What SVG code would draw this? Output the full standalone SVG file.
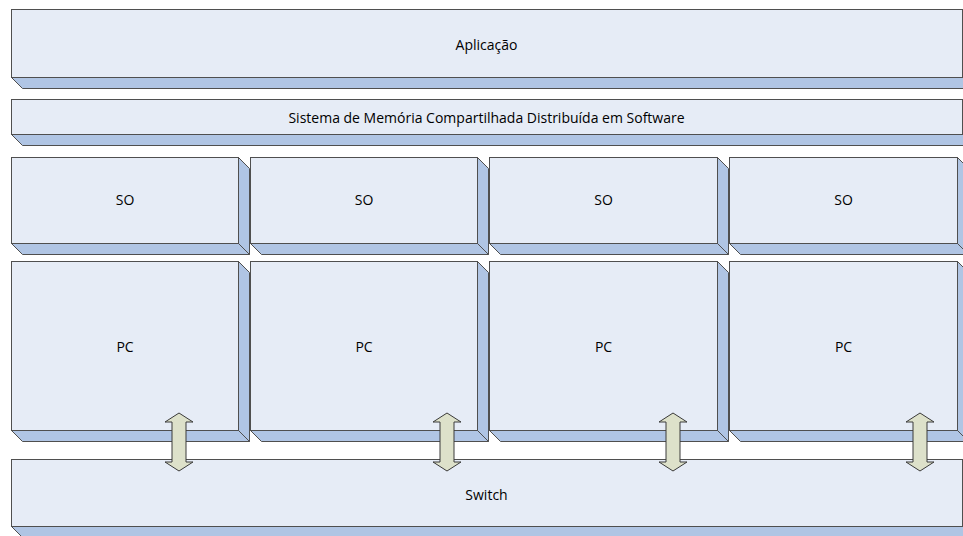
<svg xmlns="http://www.w3.org/2000/svg" width="963" height="536" viewBox="0 0 963 536">
<style>
.f{fill:#E6ECF6;stroke:#4F4F4F;stroke-width:1}
.s{fill:#B0C5E4;stroke:#4F4F4F;stroke-width:1;stroke-linejoin:miter}
.t{font-family:"Open Sans",Lato,"Liberation Sans",sans-serif;font-size:14px;fill:#000;text-anchor:middle;dominant-baseline:central}
.a{fill:#DDE1CA;stroke:#3A3A3A;stroke-width:1;stroke-linejoin:miter}
</style>
<rect width="963" height="536" fill="#fff"/>
<g id="aplicacao">
<polygon class="s" points="11.5,77.5 962.5,77.5 973.5,88.5 22.5,88.5"/>
<polygon class="s" points="962.5,9.5 973.5,20.5 973.5,88.5 962.5,77.5"/>
<rect class="f" x="11.5" y="9.5" width="951" height="68"/>
<text class="t" x="486.5" y="44">Aplicação</text>
</g>
<g id="sdsm">
<polygon class="s" points="11.5,134.5 962.5,134.5 973.5,145.5 22.5,145.5"/>
<polygon class="s" points="962.5,99.5 973.5,110.5 973.5,145.5 962.5,134.5"/>
<rect class="f" x="11.5" y="99.5" width="951" height="35"/>
<text class="t" x="486.5" y="117">Sistema de Memória Compartilhada Distribuída em Software</text>
</g>
<g id="so1">
<polygon class="s" points="11.5,243.5 238.5,243.5 249.5,254.5 22.5,254.5"/>
<polygon class="s" points="238.5,157.5 249.5,168.5 249.5,254.5 238.5,243.5"/>
<rect class="f" x="11.5" y="157.5" width="227" height="86"/>
<text class="t" x="125" y="199">SO</text>
</g>
<g id="so2">
<polygon class="s" points="250.5,243.5 477.5,243.5 488.5,254.5 261.5,254.5"/>
<polygon class="s" points="477.5,157.5 488.5,168.5 488.5,254.5 477.5,243.5"/>
<rect class="f" x="250.5" y="157.5" width="227" height="86"/>
<text class="t" x="364" y="199">SO</text>
</g>
<g id="so3">
<polygon class="s" points="489.5,243.5 717.5,243.5 728.5,254.5 500.5,254.5"/>
<polygon class="s" points="717.5,157.5 728.5,168.5 728.5,254.5 717.5,243.5"/>
<rect class="f" x="489.5" y="157.5" width="228" height="86"/>
<text class="t" x="603.5" y="199">SO</text>
</g>
<g id="so4">
<polygon class="s" points="729.5,243.5 957.5,243.5 968.5,254.5 740.5,254.5"/>
<polygon class="s" points="957.5,157.5 968.5,168.5 968.5,254.5 957.5,243.5"/>
<rect class="f" x="729.5" y="157.5" width="228" height="86"/>
<text class="t" x="843.5" y="199">SO</text>
</g>
<g id="pc1">
<polygon class="s" points="11.5,430.5 238.5,430.5 249.5,441.5 22.5,441.5"/>
<polygon class="s" points="238.5,261.5 249.5,272.5 249.5,441.5 238.5,430.5"/>
<rect class="f" x="11.5" y="261.5" width="227" height="169"/>
<text class="t" x="125" y="346">PC</text>
</g>
<g id="pc2">
<polygon class="s" points="250.5,430.5 477.5,430.5 488.5,441.5 261.5,441.5"/>
<polygon class="s" points="477.5,261.5 488.5,272.5 488.5,441.5 477.5,430.5"/>
<rect class="f" x="250.5" y="261.5" width="227" height="169"/>
<text class="t" x="364" y="346">PC</text>
</g>
<g id="pc3">
<polygon class="s" points="489.5,430.5 717.5,430.5 728.5,441.5 500.5,441.5"/>
<polygon class="s" points="717.5,261.5 728.5,272.5 728.5,441.5 717.5,430.5"/>
<rect class="f" x="489.5" y="261.5" width="228" height="169"/>
<text class="t" x="603.5" y="346">PC</text>
</g>
<g id="pc4">
<polygon class="s" points="729.5,430.5 957.5,430.5 968.5,441.5 740.5,441.5"/>
<polygon class="s" points="957.5,261.5 968.5,272.5 968.5,441.5 957.5,430.5"/>
<rect class="f" x="729.5" y="261.5" width="228" height="169"/>
<text class="t" x="843.5" y="346">PC</text>
</g>
<g id="switch">
<polygon class="s" points="11.5,526.5 962.5,526.5 973.5,537.5 22.5,537.5"/>
<polygon class="s" points="962.5,459.5 973.5,470.5 973.5,537.5 962.5,526.5"/>
<rect class="f" x="11.5" y="459.5" width="951" height="67"/>
<text class="t" x="486.5" y="494">Switch</text>
</g>
<g id="connectors">
<polygon class="a" points="179,413 193,422 186,422 186,462 193,462 179,471 165,462 172,462 172,422 165,422"/>
<polygon class="a" points="447,413 461,422 454,422 454,462 461,462 447,471 433,462 440,462 440,422 433,422"/>
<polygon class="a" points="673,413 687,422 680,422 680,462 687,462 673,471 659,462 666,462 666,422 659,422"/>
<polygon class="a" points="920,413 934,422 927,422 927,462 934,462 920,471 906,462 913,462 913,422 906,422"/>
</g>
</svg>
